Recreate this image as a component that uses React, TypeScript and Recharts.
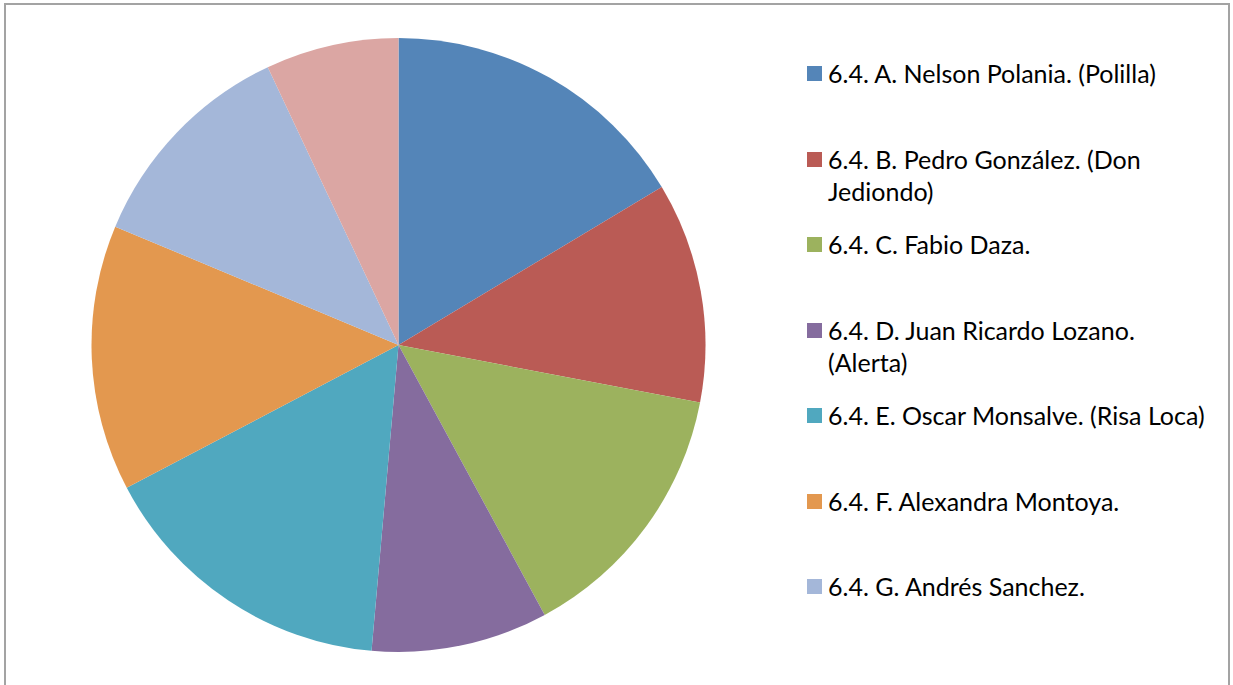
import React from "react";
import { PieChart, Pie, Cell, Legend } from "recharts";

const names = [
  "6.4. A. Nelson Polania. (Polilla)",
  "6.4. B. Pedro González. (Don Jediondo)",
  "6.4. C. Fabio Daza.",
  "6.4. D. Juan Ricardo Lozano. (Alerta)",
  "6.4. E. Oscar Monsalve. (Risa Loca)",
  "6.4. F. Alexandra Montoya.",
  "6.4. G. Andrés Sanchez.",
  "6.4. H.",
];
const values = [16.4, 11.6, 14.1, 9.3, 15.9, 14.0, 11.7, 7.0];
const colors = ["#5485B8", "#BA5B55", "#9CB25E", "#856C9E", "#50A8BF", "#E3984F", "#A4B7D9", "#DBA6A3"];
const legendCount = 7;

const data = names.map((name, i) => ({ name, value: values[i] }));

const FONT = "Lato, 'Open Sans', sans-serif";

function LegendContent() {
  return (
    <div style={{ position: "relative", width: 420, height: 600, fontFamily: FONT }}>
      {names.slice(0, legendCount).map((n, i) => (
        <div key={n} style={{ position: "absolute", left: 0, top: i * 85.5, width: 420 }}>
          <div style={{ position: "absolute", left: 0, top: 0, width: 15, height: 15, background: colors[i] }} />
          <div
            style={{
              position: "absolute",
              left: 21,
              top: -9,
              maxWidth: 385,
              fontSize: 25,
              lineHeight: "32px",
              color: "#000",
              whiteSpace: "normal",
            }}
          >
            {n}
          </div>
        </div>
      ))}
    </div>
  );
}

export default function App() {
  return (
    <div style={{ position: "absolute", left: 0, top: 0, width: 1233, height: 685, overflow: "hidden", background: "#fff" }}>
      <div
        style={{
          position: "absolute",
          left: 4,
          top: 3,
          width: 1222,
          height: 700,
          border: "2px solid #a3a3a3",
        }}
      />
      <div style={{ position: "absolute", left: 0, top: 0 }}>
        <PieChart width={1233} height={685} margin={{ top: 0, right: 0, bottom: 0, left: 0 }}>
          <Pie
            data={data}
            dataKey="value"
            nameKey="name"
            cx={398.5}
            cy={345}
            outerRadius={307}
            startAngle={90}
            endAngle={-270}
            stroke="none"
            isAnimationActive={false}
          >
            {data.map((d, i) => (
              <Cell key={d.name} fill={colors[i]} />
            ))}
          </Pie>
          <Legend
            content={<LegendContent />}
            wrapperStyle={{ position: "absolute", left: 807, top: 66, width: 420, height: 600 }}
          />
        </PieChart>
      </div>
    </div>
  );
}
